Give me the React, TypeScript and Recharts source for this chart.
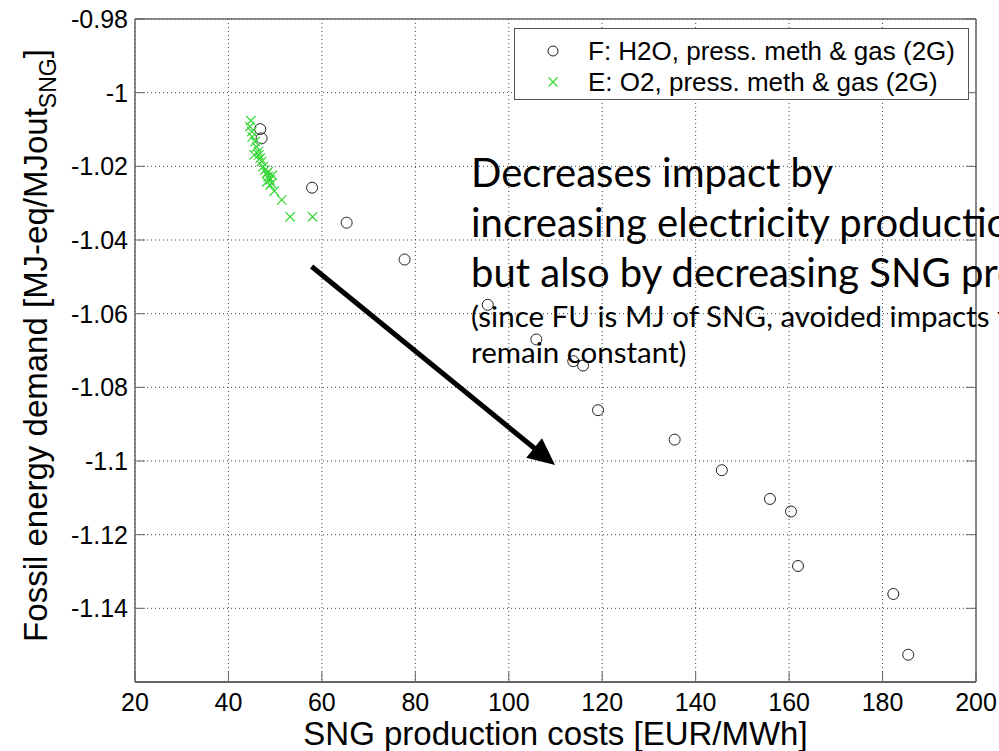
import React from 'react'
import { ScatterChart, Scatter, XAxis, YAxis, CartesianGrid, Legend, ReferenceLine, Label } from 'recharts'

const xTicks = [20, 40, 60, 80, 100, 120, 140, 160, 180, 200]
const yTicks = [-0.98, -1, -1.02, -1.04, -1.06, -1.08, -1.1, -1.12, -1.14]

// F: H2O, press. meth & gas (2G)
const h2oCost = [46.8, 47.1, 57.9, 65.3, 77.7, 95.5, 105.9, 113.8, 115.9, 119.1, 135.5, 145.6, 155.9, 160.4, 161.9, 182.3, 185.5]
const h2oDemand = [-1.0099, -1.0124, -1.0258, -1.0353, -1.0453, -1.0576, -1.067, -1.0729, -1.0741, -1.0862, -1.0942, -1.1025, -1.1103, -1.1137, -1.1285, -1.1361, -1.1526]

// E: O2, press. meth & gas (2G)
const o2Cost = [44.8, 44.6, 45.0, 45.1, 45.5, 45.7, 46.0, 46.4, 46.5, 46.8, 47.1, 47.4, 47.8, 48.2, 48.5, 48.5, 48.9, 49.2, 49.4, 48.2, 48.9, 49.8, 51.4, 53.2, 58.0]
const o2Demand = [-1.0076, -1.0092, -1.0106, -1.012, -1.0169, -1.0133, -1.0147, -1.016, -1.0169, -1.0178, -1.0187, -1.0201, -1.021, -1.0219, -1.0228, -1.0215, -1.0237, -1.0246, -1.0224, -1.0242, -1.0251, -1.0267, -1.0291, -1.0337, -1.0337]

const seriesNames = ['F: H2O, press. meth & gas (2G)', 'E: O2, press. meth & gas (2G)']

// arrow annotation, in data units
const arrowFrom = { x: 57.8, y: -1.0472 }
const arrowTo = { x: 109.9, y: -1.1011 }

const noteBig = ['Decreases impact by', 'increasing electricity production', 'but also by decreasing SNG production']
const noteSmall = ['(since FU is MJ of SNG, avoided impacts from electricity', 'remain constant)']

const h2oData = h2oCost.map((c, i) => ({ x: c, y: h2oDemand[i] }))
const o2Data = o2Cost.map((c, i) => ({ x: c, y: o2Demand[i] }))

const GREEN = '#33d633'
const AXIS = '#666'
const FONT = '"Liberation Sans", Arial, Helvetica, sans-serif'

const Circle = (p: any) => (
  <circle cx={p.cx} cy={p.cy} r={5.5} fill="none" stroke="#222" strokeWidth={1} />
)

const Cross = (p: any) => {
  const s = 4.7
  return (
    <path
      d={`M${p.cx - s},${p.cy - s}L${p.cx + s},${p.cy + s}M${p.cx - s},${p.cy + s}L${p.cx + s},${p.cy - s}`}
      stroke={GREEN}
      strokeWidth={1.2}
      fill="none"
    />
  )
}

const Arrow = (p: any) => {
  const { x1, y1, x2, y2 } = p
  const a = Math.atan2(y2 - y1, x2 - x1)
  const len = 27
  const half = 12.5
  const bx = x2 - len * Math.cos(a)
  const by = y2 - len * Math.sin(a)
  const nx = -Math.sin(a) * half
  const ny = Math.cos(a) * half
  return (
    <g>
      <line x1={x1} y1={y1} x2={bx + 2 * Math.cos(a)} y2={by + 2 * Math.sin(a)} stroke="#000" strokeWidth={5} />
      <polygon points={`${x2},${y2} ${bx + nx},${by + ny} ${bx - nx},${by - ny}`} fill="#000" />
    </g>
  )
}

const LegendBox = () => (
  <div
    style={{
      position: 'relative',
      width: 455,
      height: 72,
      boxSizing: 'border-box',
      border: '1px solid #555',
      background: '#fff',
      fontFamily: FONT,
      fontSize: 26,
      color: '#000',
    }}
  >
    {seriesNames.map((name, i) => (
      <div key={name} style={{ position: 'absolute', left: 0, top: 7 + i * 31, height: 30, width: '100%' }}>
        <svg width={20} height={20} style={{ position: 'absolute', left: 28, top: 5 }}>
          {i === 0 ? (
            <circle cx={10} cy={10} r={5} fill="none" stroke="#222" strokeWidth={1} />
          ) : (
            <path d="M5.5,5.5L14.5,14.5M5.5,14.5L14.5,5.5" stroke={GREEN} strokeWidth={1.2} />
          )}
        </svg>
        <span style={{ position: 'absolute', left: 73, top: 0, lineHeight: '30px', whiteSpace: 'nowrap' }}>{name}</span>
      </div>
    ))}
  </div>
)

const YTitle = (props: any) => {
  const vb = props.viewBox
  const cx = 47
  const cy = vb.y + vb.height / 2 - 5
  return (
    <text
      x={cx}
      y={cy}
      transform={`rotate(-90, ${cx}, ${cy})`}
      textAnchor="middle"
      fontFamily={FONT}
      fontSize={33}
      fill="#000"
    >
      Fossil energy demand [MJ-eq/MJout
      <tspan fontSize={23} dy={9}>SNG</tspan>
      <tspan dy={-9}>]</tspan>
    </text>
  )
}

const XTitle = (props: any) => {
  const vb = props.viewBox
  return (
    <text x={vb.x + vb.width / 2} y={vb.y + 63} textAnchor="middle" fontFamily={FONT} fontSize={33} fill="#000">
      SNG production costs [EUR/MWh]
    </text>
  )
}

export default function App() {
  const tickStyle = { fontFamily: FONT, fontSize: 25, fill: '#000' }
  return (
    <div style={{ position: 'absolute', left: 0, top: 0, width: 999, height: 751, background: '#fff' }}>
      <ScatterChart width={999} height={751} margin={{ top: 0, right: 0, bottom: 0, left: 0 }}>
        <CartesianGrid stroke="#444" strokeDasharray="1 3" strokeWidth={1} />
        <XAxis
          type="number"
          dataKey="x"
          domain={[20, 200]}
          ticks={xTicks}
          allowDataOverflow
          height={69}
          tickSize={-10}
          tickMargin={21}
          tick={tickStyle}
          stroke={AXIS}
          axisLine={{ stroke: AXIS, strokeWidth: 2 }}
          tickLine={{ stroke: AXIS }}
        >
          <Label content={XTitle} />
        </XAxis>
        <XAxis
          xAxisId="top"
          orientation="top"
          type="number"
          domain={[20, 200]}
          ticks={xTicks}
          allowDataOverflow
          height={19}
          tickSize={-10}
          tickFormatter={() => ''}
          axisLine={{ stroke: AXIS, strokeWidth: 1.5 }}
          tickLine={{ stroke: AXIS }}
        />
        <YAxis
          type="number"
          dataKey="y"
          domain={[-1.16, -0.98]}
          ticks={yTicks}
          allowDataOverflow
          width={135}
          tickSize={-10}
          tickMargin={17}
          tick={tickStyle}
          axisLine={{ stroke: AXIS, strokeWidth: 1.5 }}
          tickLine={{ stroke: AXIS }}
        >
          <Label content={YTitle} />
        </YAxis>
        <YAxis
          yAxisId="right"
          orientation="right"
          type="number"
          domain={[-1.16, -0.98]}
          ticks={yTicks}
          allowDataOverflow
          width={23}
          tickSize={-10}
          tickFormatter={() => ''}
          axisLine={{ stroke: AXIS, strokeWidth: 1.5 }}
          tickLine={{ stroke: AXIS }}
        />
        <Scatter name={seriesNames[0]} data={h2oData} shape={Circle} isAnimationActive={false} />
        <Scatter name={seriesNames[1]} data={o2Data} shape={Cross} isAnimationActive={false} />
        <ReferenceLine segment={[arrowFrom, arrowTo]} shape={Arrow} ifOverflow="visible" />
        <Legend
          layout="vertical"
          align="center"
          verticalAlign="middle"
          wrapperStyle={{ left: 514, top: 28, width: 455, height: 72 }}
          content={LegendBox}
        />
      </ScatterChart>
      <svg width={999} height={751} style={{ position: 'absolute', left: 0, top: 0, pointerEvents: 'none' }}>
        {noteBig.map((t, i) => (
          <text key={t} x={471} y={187 + i * 50} fontFamily="Lato, sans-serif" fontSize={40} fill="#000">
            {t}
          </text>
        ))}
        {noteSmall.map((t, i) => (
          <text key={t} x={471} y={327 + i * 36} fontFamily="Lato, sans-serif" fontSize={29.5} fill="#000">
            {t}
          </text>
        ))}
      </svg>
    </div>
  )
}
